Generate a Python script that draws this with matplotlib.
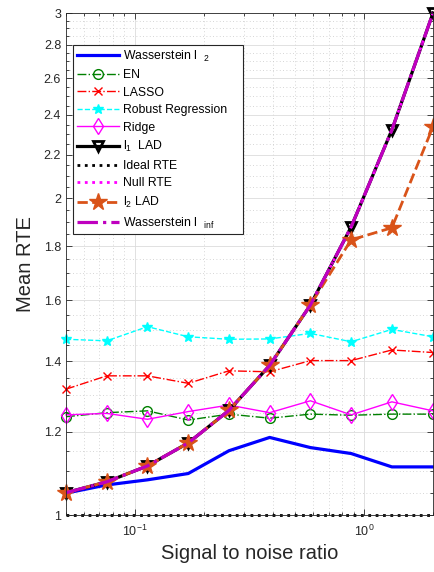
import matplotlib
matplotlib.use("Agg")
import matplotlib.pyplot as plt
from matplotlib.ticker import FixedLocator, FuncFormatter, NullFormatter, LogLocator

plt.rcParams['font.family'] = ['Liberation Sans', 'DejaVu Sans']
plt.rcParams['mathtext.default'] = 'regular'

# Data
snr = [0.05, 0.0753, 0.1134, 0.1708, 0.2572, 0.3873, 0.5833, 0.8784, 1.3228, 2.0]
wass_l2 = [1.049, 1.068, 1.080, 1.095, 1.151, 1.185, 1.159, 1.144, 1.111, 1.111]
en = [1.240, 1.251, 1.256, 1.231, 1.247, 1.236, 1.247, 1.244, 1.247, 1.247]
lasso = [1.317, 1.356, 1.356, 1.334, 1.371, 1.368, 1.402, 1.402, 1.435, 1.427]
robust = [1.469, 1.464, 1.510, 1.477, 1.469, 1.470, 1.488, 1.461, 1.501, 1.477]
ridge = [1.245, 1.249, 1.233, 1.254, 1.272, 1.251, 1.284, 1.245, 1.281, 1.256]
l1_lad = [1.05, 1.0753, 1.1134, 1.1708, 1.2572, 1.3873, 1.5833, 1.8784, 2.3228, 3.0]
ideal_rte = [1, 1, 1, 1, 1, 1, 1, 1, 1, 1]
null_rte = [1.05, 1.0753, 1.1134, 1.1708, 1.2572, 1.3873, 1.5833, 1.8784, 2.3228, 3.0]
l2_lad = [1.05, 1.0753, 1.1134, 1.1708, 1.2572, 1.3873, 1.5833, 1.826, 1.875, 2.339]
wass_inf = [1.05, 1.0753, 1.1134, 1.1708, 1.2572, 1.3873, 1.5833, 1.8784, 2.3228, 3.0]

y_major = [1, 1.2, 1.4, 1.6, 1.8, 2, 2.2, 2.4, 2.6, 2.8, 3]
y_minor = [1 + 0.05 * k for k in range(41) if k % 4 != 0]

fig = plt.figure(figsize=(4.35, 5.72), dpi=100)
ax = fig.add_axes([66 / 435, 57 / 572, 367 / 435, 502 / 572])

kw = dict(clip_on=False)
ax.plot(snr, wass_l2, '-', color=(0, 0, 1), lw=2.3, label=r'Wasserstein l  $_{2}$', **kw)
ax.plot(snr, en, '-.', color=(0, 0.5, 0), lw=1, marker='o', ms=7, mfc='none', mec=(0, 0.5, 0), label='EN', **kw)
ax.plot(snr, lasso, '-.', color=(1, 0, 0), lw=1, marker='x', ms=5.5, label='LASSO', **kw)
ax.plot(snr, robust, '--', color=(0, 1, 1), lw=1, marker='*', ms=7, label='Robust Regression', **kw)
ax.plot(snr, ridge, '-', color=(1, 0, 1), lw=1, marker='d', ms=8.5, mfc='none', mec=(1, 0, 1), label='Ridge', **kw)
ax.plot(snr, l1_lad, '-', color='black', lw=2.3, marker='v', ms=7, mfc='none', mec='black', mew=2, label=r'l$_1$  LAD', **kw)
ax.plot(snr, ideal_rte, ':', color='black', lw=2, label='Ideal RTE', **kw)
ax.plot(snr, null_rte, ':', color=(1, 0, 1), lw=2, label='Null RTE', **kw)
ax.plot(snr, l2_lad, '--', color=(0.85, 0.325, 0.098), lw=2, marker='*', ms=13, label=r'l$_2$ LAD', **kw)
ax.plot(snr, wass_inf, '-.', color=(0.75, 0, 0.75), lw=2.3, label=r'Wasserstein l  $_{inf}$', **kw)

ax.set_xscale('log')
ax.set_yscale('log')
ax.set_xlim(0.05, 2)
ax.set_ylim(1, 3)

ax.yaxis.set_major_locator(FixedLocator(y_major))
ax.yaxis.set_minor_locator(FixedLocator(y_minor))
ax.yaxis.set_major_formatter(FuncFormatter(lambda v, p: '%g' % v))
ax.yaxis.set_minor_formatter(NullFormatter())
ax.xaxis.set_major_locator(LogLocator(base=10))
ax.xaxis.set_minor_locator(LogLocator(base=10, subs=range(2, 10)))
ax.xaxis.set_minor_formatter(NullFormatter())

tc = '#262626'
ax.tick_params(which='both', direction='in', top=True, right=True, colors=tc, labelsize=9)
ax.tick_params(which='major', length=4.5, width=0.6)
ax.tick_params(which='minor', length=2.5, width=0.6)
ax.tick_params(axis='x', pad=6)
for s in ax.spines.values():
    s.set_color(tc)
    s.set_linewidth(0.6)

ax.grid(True, which='major', color='#dcdcdc', lw=0.6, ls='-')
ax.grid(True, which='minor', color='#c8c8c8', lw=0.6, ls=(0, (1, 3)))
ax.set_axisbelow(True)

ax.set_xlabel('Signal to noise ratio', fontsize=14.5, color=tc, labelpad=4)
ax.set_ylabel('Mean RTE', fontsize=14.5, color=tc, labelpad=6)

leg = ax.legend(loc='upper left', bbox_to_anchor=(7 / 367, 0, 170 / 367, 1 - 32 / 502),
                mode='expand', fontsize=8.8,
                handlelength=3.5, handletextpad=0.3, labelspacing=0.45, borderpad=0.3,
                borderaxespad=0, fancybox=False, framealpha=1, edgecolor=tc)
leg.get_frame().set_linewidth(0.8)

fig.savefig('out.png', dpi=100)
